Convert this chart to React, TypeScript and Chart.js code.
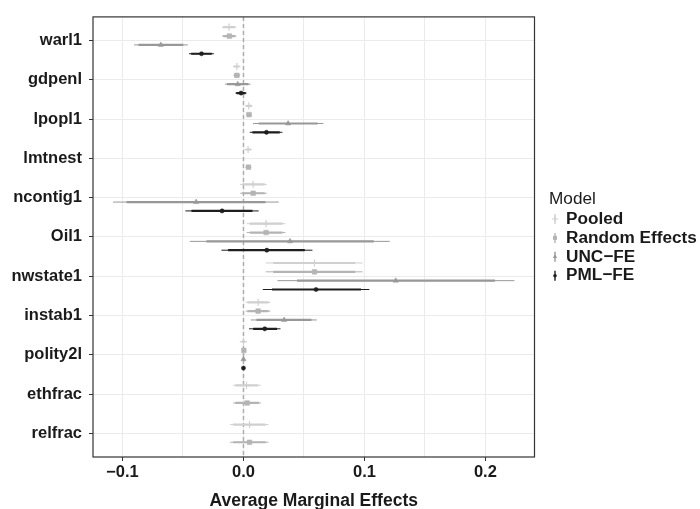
import React, { useEffect, useRef } from 'react';
import { Chart, registerables } from 'chart.js';

Chart.register(...registerables);

// ---------------- data ----------------
const categories = ['warl1', 'gdpenl', 'lpopl1', 'lmtnest', 'ncontig1', 'Oil1', 'nwstate1', 'instab1', 'polity2l', 'ethfrac', 'relfrac'];
const models = ['Pooled', 'Random Effects', 'UNC\u2212FE', 'PML\u2212FE'];

const pooledEst = [-0.0119, -0.0055, 0.0044, 0.0038, 0.0080, 0.0187, 0.0587, 0.0121, 0.0000, 0.0025, 0.0050];
const pooledLo95 = [-0.0177, -0.0086, 0.0019, 0.0013, -0.0028, 0.0027, 0.0184, 0.0017, -0.0012, -0.0086, -0.0111];
const pooledHi95 = [-0.0058, -0.0028, 0.0071, 0.0066, 0.0193, 0.0347, 0.0986, 0.0223, 0.0012, 0.0143, 0.0207];
const pooledLo90 = [-0.0168, -0.0081, 0.0023, 0.0017, -0.0011, 0.0052, 0.0246, 0.0033, -0.0010, -0.0068, -0.0087];
const pooledHi90 = [-0.0070, -0.0032, 0.0067, 0.0062, 0.0175, 0.0322, 0.0924, 0.0207, 0.0010, 0.0121, 0.0183];

const reEst = [-0.0116, -0.0055, 0.0046, 0.0041, 0.0080, 0.0187, 0.0587, 0.0121, 0.0003, 0.0030, 0.0050];
const reLo95 = [-0.0177, -0.0083, 0.0022, 0.0016, -0.0028, 0.0027, 0.0184, 0.0017, -0.0010, -0.0086, -0.0111];
const reHi95 = [-0.0058, -0.0027, 0.0070, 0.0065, 0.0193, 0.0347, 0.0986, 0.0223, 0.0014, 0.0146, 0.0207];
const reLo90 = [-0.0168, -0.0079, 0.0026, 0.0020, -0.0011, 0.0052, 0.0246, 0.0033, -0.0008, -0.0068, -0.0087];
const reHi90 = [-0.0067, -0.0031, 0.0066, 0.0061, 0.0175, 0.0322, 0.0924, 0.0207, 0.0012, 0.0128, 0.0183];

const uncEst = [-0.0683, -0.0047, 0.0369, null, -0.0391, 0.0385, 0.1259, 0.0336, 0.0000, null, null];
const uncLo95 = [-0.0904, -0.0152, 0.0079, null, -0.1078, -0.0444, 0.0281, 0.0060, -0.0008, null, null];
const uncHi95 = [-0.0460, 0.0058, 0.0660, null, 0.0292, 0.1209, 0.2240, 0.0606, 0.0008, null, null];
const uncLo90 = [-0.0868, -0.0135, 0.0126, null, -0.0967, -0.0306, 0.0443, 0.0107, -0.0006, null, null];
const uncHi90 = [-0.0497, 0.0041, 0.0613, null, 0.0182, 0.1077, 0.2079, 0.0562, 0.0006, null, null];

const pmlEst = [-0.0347, -0.0020, 0.0190, null, -0.0177, 0.0193, 0.0600, 0.0176, 0.0000, null, null];
const pmlLo95 = [-0.0450, -0.0066, 0.0052, null, -0.0480, -0.0182, 0.0160, 0.0046, -0.0004, null, null];
const pmlHi95 = [-0.0245, 0.0025, 0.0322, null, 0.0126, 0.0570, 0.1041, 0.0306, 0.0004, null, null];
const pmlLo90 = [-0.0433, -0.0059, 0.0074, null, -0.0430, -0.0127, 0.0236, 0.0080, -0.0003, null, null];
const pmlHi90 = [-0.0262, 0.0018, 0.0300, null, 0.0074, 0.0507, 0.0972, 0.0278, 0.0003, null, null];

const xMajorTicks = [-0.1, 0, 0.1, 0.2];
const xMajorLabels = ['\u22120.1', '0.0', '0.1', '0.2'];
const xMinorTicks = [-0.05, 0.05, 0.15];
const xMin = -0.1244;
const xMax = 0.2406;

// ---------------- styles ----------------
const modelColors = ['#d0d0d0', '#b4b4b4', '#989898', '#1e1e1e'];
const modelShapes = ['cross', 'rect', 'triangle', 'circle'];
const modelRadius = [3.6, 3.3, 3.0, 2.1];
const FONT = '"Liberation Sans", Arial, Helvetica, sans-serif';
const DODGE = 0.9;

const estAll = [pooledEst, reEst, uncEst, pmlEst];
const lo95All = [pooledLo95, reLo95, uncLo95, pmlLo95];
const hi95All = [pooledHi95, reHi95, uncHi95, pmlHi95];
const lo90All = [pooledLo90, reLo90, uncLo90, pmlLo90];
const hi90All = [pooledHi90, reHi90, uncHi90, pmlHi90];

function dodgeOffset(catIdx: number, modelIdx: number): number {
  const present: number[] = [];
  for (let m = 0; m < models.length; m++) if (estAll[m][catIdx] != null) present.push(m);
  const n = present.length;
  const rank = present.indexOf(modelIdx);
  return (rank - (n - 1) / 2) * (DODGE / n);
}

function drawMarker(ctx: CanvasRenderingContext2D, shape: string, x: number, y: number, r: number, color: string) {
  ctx.save();
  ctx.fillStyle = color;
  ctx.strokeStyle = color;
  ctx.lineWidth = 1.2;
  ctx.beginPath();
  if (shape === 'cross') {
    ctx.moveTo(x - r, y);
    ctx.lineTo(x + r, y);
    ctx.moveTo(x, y - r);
    ctx.lineTo(x, y + r);
    ctx.stroke();
  } else if (shape === 'rect') {
    const s = r / Math.SQRT2;
    ctx.fillRect(x - s, y - s, 2 * s, 2 * s);
  } else if (shape === 'triangle') {
    for (let k = 0; k < 3; k++) {
      const a = (k * 2 * Math.PI) / 3;
      const px = x + Math.sin(a) * r;
      const py = y - Math.cos(a) * r;
      if (k === 0) ctx.moveTo(px, py);
      else ctx.lineTo(px, py);
    }
    ctx.closePath();
    ctx.fill();
  } else {
    ctx.arc(x, y, r, 0, Math.PI * 2);
    ctx.fill();
  }
  ctx.restore();
}

const errorBarPlugin = {
  id: 'errorBars',
  beforeDatasetsDraw(chart: any) {
    const { ctx, chartArea, scales } = chart;
    const xs = scales.x;
    const ys = scales.y;
    ctx.save();
    ctx.beginPath();
    ctx.rect(chartArea.left, chartArea.top, chartArea.right - chartArea.left, chartArea.bottom - chartArea.top);
    ctx.clip();
    // zero reference line
    const x0 = xs.getPixelForValue(0);
    ctx.beginPath();
    ctx.setLineDash([4, 3]);
    ctx.strokeStyle = '#adadad';
    ctx.lineWidth = 1.5;
    ctx.moveTo(x0, chartArea.top);
    ctx.lineTo(x0, chartArea.bottom);
    ctx.stroke();
    ctx.setLineDash([]);
    ctx.lineCap = 'butt';
    chart.data.datasets.forEach((ds: any) => {
      ds.data.forEach((p: any) => {
        const py = ys.getPixelForValue(p.y);
        ctx.strokeStyle = ds.borderColor;
        ctx.lineWidth = 1;
        ctx.beginPath();
        ctx.moveTo(xs.getPixelForValue(p.lo95), py);
        ctx.lineTo(xs.getPixelForValue(p.hi95), py);
        ctx.stroke();
        ctx.lineWidth = 2.2;
        ctx.beginPath();
        ctx.moveTo(xs.getPixelForValue(p.lo90), py);
        ctx.lineTo(xs.getPixelForValue(p.hi90), py);
        ctx.stroke();
      });
    });
    ctx.restore();
  },
  afterDraw(chart: any) {
    const { ctx, chartArea } = chart;
    ctx.save();
    ctx.strokeStyle = '#333333';
    ctx.lineWidth = 1.2;
    ctx.strokeRect(chartArea.left, chartArea.top, chartArea.right - chartArea.left, chartArea.bottom - chartArea.top);

    // legend
    ctx.fillStyle = '#1a1a1a';
    ctx.textBaseline = 'middle';
    ctx.textAlign = 'left';
    ctx.font = `17.2px ${FONT}`;
    ctx.fillText('Model', 549, 199.5);
    ctx.font = `bold 17.2px ${FONT}`;
    chart.data.datasets.forEach((ds: any, i: number) => {
      const cy = 219 + i * 18.9;
      const kx = 555;
      ctx.strokeStyle = ds.borderColor;
      ctx.lineWidth = 1.4;
      ctx.beginPath();
      ctx.moveTo(kx, cy - 5);
      ctx.lineTo(kx, cy + 5);
      ctx.stroke();
      drawMarker(ctx, modelShapes[i], kx, cy, modelRadius[i] * 0.85, ds.borderColor);
      ctx.fillStyle = '#1a1a1a';
      ctx.fillText(ds.label, 566, cy);
    });
    ctx.restore();
  },
};

export default function App() {
  const canvasRef = useRef<HTMLCanvasElement | null>(null);

  useEffect(() => {
    document.body.style.margin = '0';
    if (!canvasRef.current) return;
    Chart.defaults.font.family = FONT;

    const datasets = models.map((name, m) => {
      const data: any[] = [];
      categories.forEach((_, c) => {
        const e = estAll[m][c];
        if (e == null) return;
        data.push({
          x: e,
          y: c + dodgeOffset(c, m),
          lo95: lo95All[m][c],
          hi95: hi95All[m][c],
          lo90: lo90All[m][c],
          hi90: hi90All[m][c],
        });
      });
      return {
        label: name,
        data,
        borderColor: modelColors[m],
        backgroundColor: modelColors[m],
        pointStyle: modelShapes[m],
        pointRadius: modelRadius[m],
        pointBorderWidth: m === 0 ? 1.2 : 0.5,
        showLine: false,
      };
    });

    const majorIndex = (v: number) => xMajorTicks.findIndex((t) => Math.abs(t - v) < 1e-9);

    const chart = new Chart(canvasRef.current, {
      type: 'scatter',
      data: { datasets } as any,
      plugins: [errorBarPlugin],
      options: {
        animation: false,
        responsive: false,
        layout: { padding: { top: 12, right: 165.5, bottom: 0, left: 0 } },
        plugins: { legend: { display: false }, tooltip: { enabled: false } },
        scales: {
          x: {
            type: 'linear',
            min: xMin,
            max: xMax,
            afterBuildTicks: (s: any) => {
              s.ticks = [...xMajorTicks, ...xMinorTicks].sort((a, b) => a - b).map((v) => ({ value: v }));
            },
            afterFit: (s: any) => {
              s.height = 52;
            },
            ticks: {
              autoSkip: false,
              maxRotation: 0,
              padding: 2,
              color: '#1a1a1a',
              font: { size: 16.5, weight: 'bold' },
              callback: (v: any) => {
                const k = majorIndex(Number(v));
                return k >= 0 ? xMajorLabels[k] : '';
              },
            },
            grid: {
              color: '#ebebeb',
              lineWidth: 1,
              tickLength: 4,
              tickColor: (ctx: any) => (ctx.tick && majorIndex(ctx.tick.value) >= 0 ? '#333333' : 'rgba(0,0,0,0)'),
            },
            border: { display: false },
            title: {
              display: true,
              text: 'Average Marginal Effects',
              color: '#1a1a1a',
              padding: 0,
              font: { size: 17.5, weight: 'bold', lineHeight: 0.84 },
            },
          },
          y: {
            type: 'linear',
            min: -0.6,
            max: 10.6,
            reverse: true,
            afterBuildTicks: (s: any) => {
              s.ticks = categories.map((_, i) => ({ value: i }));
            },
            afterFit: (s: any) => {
              s.width = 93;
            },
            ticks: {
              autoSkip: false,
              padding: 7,
              color: '#1a1a1a',
              font: { size: 16.5, weight: 'bold' },
              callback: (v: any) => categories[Math.round(Number(v))] ?? '',
            },
            grid: {
              color: '#ebebeb',
              lineWidth: 1,
              tickLength: 4,
              tickColor: '#333333',
            },
            border: { display: false },
          },
        },
      } as any,
    });

    return () => chart.destroy();
  }, []);

  return (
    <div style={{ position: 'absolute', left: 0, top: 0, width: 700, height: 509, background: '#ffffff' }}>
      <canvas ref={canvasRef} width={700} height={509} style={{ display: 'block' }} />
    </div>
  );
}
